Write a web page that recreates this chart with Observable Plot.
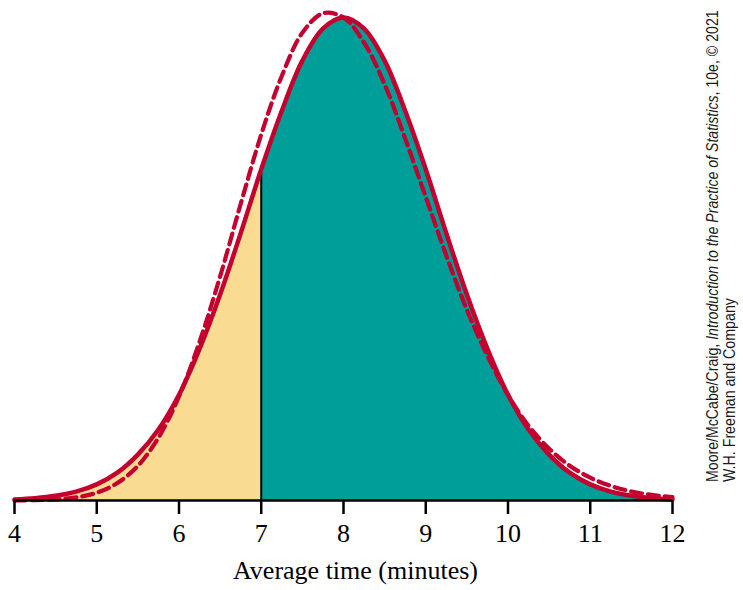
<!DOCTYPE html>
<html><head><meta charset="utf-8">
<script src="https://cdn.jsdelivr.net/npm/d3@7"></script>
<script src="https://cdn.jsdelivr.net/npm/@observablehq/plot@0.6"></script>
<style>body{margin:0;background:#fff}</style>
</head><body><div id="chart"></div>
<script>
// Average time (minutes), sampled every 0.25
const times = [4,4.25,4.5,4.75,5,5.25,5.5,5.75,6,6.25,6.5,6.75,7,7.25,7.5,7.75,8,8.25,8.5,8.75,9,9.25,9.5,9.75,10,10.25,10.5,10.75,11,11.25,11.5,11.75,12];
// Solid curve (normal approximation) heights
const normalDensity = [0.0008,0.0017,0.0034,0.0064,0.0116,0.020,0.033,0.051,0.076,0.109,0.148,0.192,0.238,0.280,0.316,0.339,0.347,0.339,0.316,0.280,0.238,0.192,0.148,0.109,0.076,0.051,0.033,0.020,0.0116,0.0064,0.0034,0.0017,0.0008];
// Dashed curve (exact, right-skewed distribution) heights
const sampleDensity = [0.00006,0.00024,0.00078,0.0022,0.0056,0.0125,0.0249,0.0451,0.0747,0.114,0.161,0.213,0.263,0.305,0.336,0.350,0.347,0.329,0.299,0.260,0.218,0.176,0.137,0.104,0.0758,0.0537,0.0372,0.0250,0.0164,0.0105,0.0065,0.0040,0.0024];
const tickValues = [4,5,6,7,8,9,10,11,12];
const cutoff = 7;
const axisLabel = "Average time (minutes)";
const creditPlain1 = "Moore/McCabe/Craig, ";
const creditItalic = "Introduction to the Practice of Statistics";
const creditPlain2 = ", 10e, © 2021";
const creditLine2 = "W.H. Freeman and Company";

const rows = times.map((t, i) => ({t, normal: normalDensity[i], sample: sampleDensity[i]}));
const lower = rows.filter(d => d.t <= cutoff);
const upper = rows.filter(d => d.t >= cutoff);
const cut = rows.filter(d => d.t === cutoff);

const red = "#C4002F";
const plot = Plot.plot({
  width: 743, height: 590,
  marginLeft: 14, marginRight: 71, marginTop: 17, marginBottom: 90,
  style: {fontFamily: "'Liberation Serif', 'DejaVu Serif', serif", background: "#fff", color: "#000"},
  x: {domain: [4, 12]},
  y: {domain: [0, 0.347], axis: null},
  marks: [
    Plot.areaY(lower, {x: "t", y: "normal", fill: "#F9DC92", curve: "catmull-rom"}),
    Plot.areaY(upper, {x: "t", y: "normal", fill: "#009E99", curve: "catmull-rom"}),
    Plot.ruleX(cut, {x: "t", y1: 0, y2: "normal", stroke: "#000", strokeWidth: 2}),
    Plot.lineY(rows, {x: "t", y: "normal", stroke: red, strokeWidth: 4.5, curve: "catmull-rom"}),
    Plot.lineY(rows, {x: "t", y: "sample", stroke: red, strokeWidth: 4.2, strokeDasharray: "11,6", curve: "catmull-rom"}),
    Plot.ruleY([0], {stroke: "#000", strokeWidth: 2.5}),
    Plot.axisX(tickValues, {tickSize: 14, tickPadding: 9, strokeWidth: 2.5, fontSize: 26, label: null, tickFormat: d => String(d)}),
    Plot.text([axisLabel], {text: d => d, frameAnchor: "bottom", dx: 12, dy: 78, fontSize: 26, fill: "#000"})
  ]
});
document.getElementById("chart").appendChild(plot);

const svg = d3.select(plot);
const credit = svg.append("g")
  .attr("font-family", "'Liberation Sans Narrow', 'Liberation Sans', sans-serif")
  .attr("font-size", 17)
  .attr("text-anchor", "start")
  .attr("fill", "#1a1a1a");
const t1 = credit.append("text").attr("text-anchor", "start");
t1.append("tspan").text(creditPlain1);
t1.append("tspan").attr("font-style", "italic").text(creditItalic);
t1.append("tspan").text(creditPlain2);
const t2 = credit.append("text").attr("text-anchor", "start").text(creditLine2);
function fit(sel, x, y, len) {
  const w = sel.node().getComputedTextLength() || len;
  sel.attr("transform", `translate(${x},${y}) rotate(-90) scale(${len / w},1)`);
}
fit(t1, 718, 482, 472);
fit(t2, 735, 482, 184);
</script>
</body></html>
